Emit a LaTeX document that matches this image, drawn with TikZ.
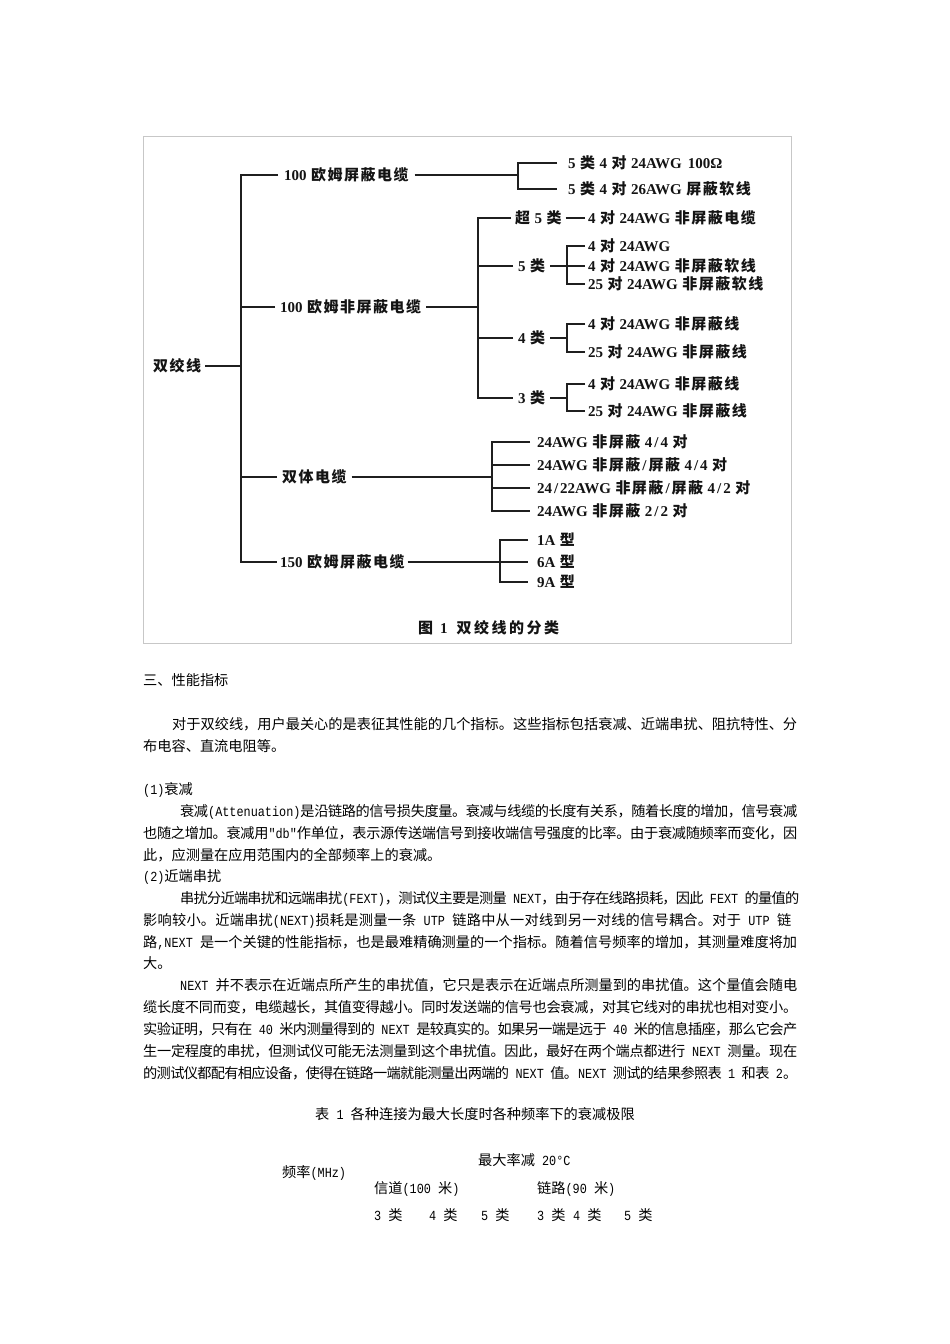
\documentclass[tikz,border=0pt]{standalone}
\usepackage{fontspec}
\setmainfont{Liberation Serif}
\newfontfamily\cjkfont{Noto Sans CJK SC}
\newfontfamily\bodylatin[Scale=0.98,FakeStretch=0.85]{Liberation Mono}
\newfontfamily\figlatin{Liberation Serif}
\def\latinfam{\bodylatin}
\def\cjkgap{}
\chardef\CJKcls=7
\newcount\cjkc
\def\setcjkrange#1#2{\cjkc=#1\relax
  \loop\XeTeXcharclass\cjkc=\CJKcls\relax
  \ifnum\cjkc<#2\relax\advance\cjkc by 1\relax\repeat}
\setcjkrange{"3000}{"303F}
\setcjkrange{"4E00}{"9FFF}
\setcjkrange{"FF00}{"FFEF}
\XeTeXinterchartoks 0 \CJKcls = {\cjkfont}
\XeTeXinterchartoks 4095 \CJKcls = {\cjkfont}
\XeTeXinterchartoks \CJKcls 0 = {\latinfam}
\XeTeXinterchartoks 4095 0 = {\latinfam}
\XeTeXinterchartoks \CJKcls \CJKcls = {\cjkgap}
\XeTeXinterchartokenstate=1
\newcommand\figfont{\fontsize{15}{18}\selectfont\bfseries\def\latinfam{\figlatin}\def\cjkgap{\kern1.5pt}\spaceskip=4.5pt\relax}
\newcommand\bodyfont{\fontsize{14.2}{17}\selectfont\def\latinfam{\bodylatin}\def\cjkgap{\hskip0pt plus 3pt minus 2pt\relax}\spaceskip=7.1pt plus 3pt minus 2pt\relax}
\newcommand\jline[2]{\hbox to #1{#2}}
\newcommand\sls{\kern2pt/\kern2pt}
\tikzset{
  fig/.style={font=\figfont, inner xsep=0pt, inner ysep=0pt, text height=13.2pt, text depth=1.8pt, anchor=west, text=black!92},
  bodytext/.style={font=\bodyfont, inner sep=0pt, anchor=base west, text=black},
  wire/.style={line width=1.7pt, draw=black!88},
}
\begin{document}
\begin{tikzpicture}[x=1pt,y=-1pt]
\fill[white] (0,0) rectangle (950,1344);
\useasboundingbox (0,0) rectangle (950,1344);
% figure frame
\draw[black!22, line width=1.2pt] (143.5,136.5) rectangle (791.5,643.5);

% root and level 1
\node[fig, outer xsep=4pt] (root) at (149,366) {双绞线};
\node[fig, outer xsep=6pt] (shield) at (278,175) {100 欧姆屏蔽电缆};
\node[fig, outer xsep=5pt] (utp) at (275,307) {100 欧姆非屏蔽电缆};
\node[fig, outer xsep=5pt] (dual) at (277,477) {双体电缆};
\node[fig, outer xsep=3pt] (stp) at (277,562) {150 欧姆屏蔽电缆};
\coordinate (tR) at (241,366);
\draw[wire] (shield.west) -| (tR) |- (stp.west);
\draw[wire] (root.east) -- (tR);
\draw[wire] (utp.west) -- (tR |- utp.west);
\draw[wire] (dual.west) -- (tR |- dual.west);

% branch: shielded 100 ohm
\node[fig, outer xsep=11pt] (sh1) at (557,163) {5 类 4 对 24AWG\hspace{6pt}100Ω};
\node[fig, outer xsep=11pt] (sh2) at (557,189) {5 类 4 对 26AWG 屏蔽软线};
\coordinate (jA) at (518,175);
\draw[wire] (shield.east) -- (jA);
\draw[wire] (sh1.west) -| (jA) |- (sh2.west);

% branch: unshielded 100 ohm
\coordinate (jB) at (478,307);
\node[fig, outer xsep=4pt] (cat5e) at (511,218) {超 5 类};
\node[fig, outer xsep=3pt] (e1) at (585,218) {4 对 24AWG 非屏蔽电缆};
\node[fig, outer xsep=5pt] (cat5) at (513,266) {5 类};
\node[fig, outer xsep=5pt] (cat4) at (513,338) {4 类};
\node[fig, outer xsep=5pt] (cat3) at (513,398) {3 类};
\draw[wire] (utp.east) -- (jB);
\draw[wire] (cat5e.west) -| (jB) |- (cat3.west);
\draw[wire] (cat5.west) -- (jB |- cat5.west);
\draw[wire] (cat4.west) -- (jB |- cat4.west);
\draw[wire] (cat5e.east) -- (e1.west);

\node[fig, outer xsep=3pt] (f1) at (585,246) {4 对 24AWG};
\node[fig, outer xsep=3pt] (f2) at (585,266) {4 对 24AWG 非屏蔽软线};
\node[fig, outer xsep=3pt] (f3) at (585,284) {25 对 24AWG 非屏蔽软线};
\coordinate (j5) at (567,266);
\draw[wire] (cat5.east) -- (f2.west);
\draw[wire] (f1.west) -| (j5) |- (f3.west);

\node[fig, outer xsep=3pt] (g1) at (585,324) {4 对 24AWG 非屏蔽线};
\node[fig, outer xsep=3pt] (g2) at (585,352) {25 对 24AWG 非屏蔽线};
\coordinate (j4) at (567,338);
\draw[wire] (cat4.east) -- (j4);
\draw[wire] (g1.west) -| (j4) |- (g2.west);

\node[fig, outer xsep=3pt] (h1) at (585,384) {4 对 24AWG 非屏蔽线};
\node[fig, outer xsep=3pt] (h2) at (585,411) {25 对 24AWG 非屏蔽线};
\coordinate (j3) at (567,398);
\draw[wire] (cat3.east) -- (j3);
\draw[wire] (h1.west) -| (j3) |- (h2.west);

% branch: dual cable
\node[fig, outer xsep=7pt] (d1) at (530,442) {24AWG 非屏蔽 4\sls 4 对};
\node[fig, outer xsep=7pt] (d2) at (530,465) {24AWG 非屏蔽\sls 屏蔽 4\sls 4 对};
\node[fig, outer xsep=7pt] (d3) at (530,488) {24\sls 22AWG 非屏蔽\sls 屏蔽 4\sls 2 对};
\node[fig, outer xsep=7pt] (d4) at (530,511) {24AWG 非屏蔽 2\sls 2 对};
\coordinate (jC) at (492,477);
\draw[wire] (dual.east) -- (jC);
\draw[wire] (d1.west) -| (jC) |- (d4.west);
\draw[wire] (d2.west) -- (jC |- d2.west);
\draw[wire] (d3.west) -- (jC |- d3.west);

% branch: 150 ohm
\node[fig, outer xsep=9pt] (s1) at (528,540) {1A 型};
\node[fig, outer xsep=9pt] (s2) at (528,562) {6A 型};
\node[fig, outer xsep=9pt] (s3) at (528,582) {9A 型};
\coordinate (jD) at (500,562);
\draw[wire] (stp.east) -- (s2.west);
\draw[wire] (s1.west) -| (jD) |- (s3.west);

% caption
\node[fig] (cap) at (418,628) {图\hspace{7pt}1\hspace{9pt}{\def\cjkgap{\kern2.5pt}双绞线的分类}};

% body text
\node[bodytext] (b1) at (143,685.4) {三、性能指标};
\node[bodytext] (b2) at (172,729.4) {\jline{625pt}{对于双绞线，用户最关心的是表征其性能的几个指标。这些指标包括衰减、近端串扰、阻抗特性、分}};
\node[bodytext] (b3) at (143,751.4) {布电容、直流电阻等。};
\node[bodytext] (b4) at (143,794.4) {(1)衰减};
\node[bodytext] (b5) at (180,816.4) {\jline{617pt}{衰减(Attenuation)是沿链路的信号损失度量。衰减与线缆的长度有关系，随着长度的增加，信号衰减}};
\node[bodytext] (b6) at (143,838.4) {\jline{654pt}{也随之增加。衰减用"db"作单位，表示源传送端信号到接收端信号强度的比率。由于衰减随频率而变化，因}};
\node[bodytext] (b7) at (143,860.4) {此，应测量在应用范围内的全部频率上的衰减。};
\node[bodytext] (b8) at (143,881.4) {(2)近端串扰};
\node[bodytext] (b9) at (180,903.4) {\jline{619pt}{串扰分近端串扰和远端串扰(FEXT)，测试仪主要是测量 NEXT，由于存在线路损耗，因此 FEXT 的量值的}};
\node[bodytext] (b10) at (143,925.4) {\jline{648pt}{影响较小。近端串扰(NEXT)损耗是测量一条 UTP 链路中从一对线到另一对线的信号耦合。对于 UTP 链}};
\node[bodytext] (b11) at (143,947.4) {\jline{654pt}{路,NEXT 是一个关键的性能指标，也是最难精确测量的一个指标。随着信号频率的增加，其测量难度将加}};
\node[bodytext] (b12) at (143,968.4) {大。};
\node[bodytext] (b13) at (180,990.4) {\jline{617pt}{NEXT 并不表示在近端点所产生的串扰值，它只是表示在近端点所测量到的串扰值。这个量值会随电}};
\node[bodytext] (b14) at (143,1012.4) {\jline{654pt}{缆长度不同而变，电缆越长，其值变得越小。同时发送端的信号也会衰减，对其它线对的串扰也相对变小。}};
\node[bodytext] (b15) at (143,1034.4) {\jline{654pt}{实验证明，只有在 40 米内测量得到的 NEXT 是较真实的。如果另一端是远于 40 米的信息插座，那么它会产}};
\node[bodytext] (b16) at (143,1056.4) {\jline{654pt}{生一定程度的串扰，但测试仪可能无法测量到这个串扰值。因此，最好在两个端点都进行 NEXT 测量。现在}};
\node[bodytext] (b17) at (143,1078.4) {\jline{654pt}{的测试仪都配有相应设备，使得在链路一端就能测量出两端的 NEXT 值。NEXT 测试的结果参照表 1 和表 2。}};

% table header
\node[bodytext] (t1) at (315,1119.4) {表 1 各种连接为最大长度时各种频率下的衰减极限};
\node[bodytext] (t2) at (478,1165.4) {最大率减 20°C};
\node[bodytext] (t3) at (282,1177.4) {频率(MHz)};
\node[bodytext] (t4) at (374,1193.4) {信道(100 米)};
\node[bodytext] (t5) at (537,1193.4) {链路(90 米)};
\node[bodytext] (t6) at (374,1220.4) {3 类};
\node[bodytext] (t7) at (429,1220.4) {4 类};
\node[bodytext] (t8) at (481,1220.4) {5 类};
\node[bodytext] (t9) at (537,1220.4) {3 类};
\node[bodytext] (t10) at (573,1220.4) {4 类};
\node[bodytext] (t11) at (624,1220.4) {5 类};
\end{tikzpicture}
\end{document}
